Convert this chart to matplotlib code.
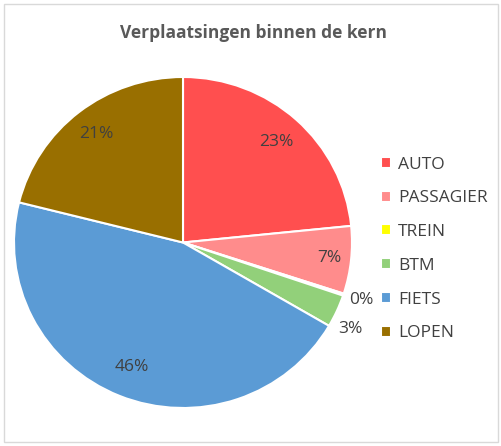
import matplotlib.pyplot as plt
import numpy as np
from matplotlib.patches import Rectangle

# data
categories = ["AUTO", "PASSAGIER", "TREIN", "BTM", "FIETS", "LOPEN"]
shares = [23.4, 6.6, 0.2, 3.2, 45.5, 21.1]
colors = ["#FF4F4F", "#FF8C8C", "#FFFF00", "#92D07A", "#5B9BD5", "#996F00"]

# label placement (radius, angle offset in degrees)
label_dist = [0.82, 0.87, 1.11, 1.12, 0.81, 0.83]
label_shift = [0, 0, 0, -3.5, 0, 0]

plt.rcParams['font.family'] = ['Open Sans', 'DejaVu Sans']

W, H = 502, 446
fig = plt.figure(figsize=(W / 100, H / 100), dpi=100)

# light frame around chart area
fig.patches.append(Rectangle((4 / W, 4 / H), (W - 8) / W, (H - 8) / H,
                             transform=fig.transFigure, fill=False,
                             edgecolor="#D9D9D9", linewidth=1))

cx, cy, rx, ry = 183, 242.5, 169, 165.5
ax = fig.add_axes([(cx - rx) / W, (H - cy - ry) / H, 2 * rx / W, 2 * ry / H])

wedges, _ = ax.pie(shares, colors=colors, startangle=90, counterclock=False,
                   radius=1, wedgeprops=dict(edgecolor="white", linewidth=1.5))
ax.set_xlim(-1, 1)
ax.set_ylim(-1, 1)
ax.set_aspect("auto")
ax.axis("off")

for w, v, d, s in zip(wedges, shares, label_dist, label_shift):
    ang = np.deg2rad((w.theta1 + w.theta2) / 2 + s)
    ax.text(d * np.cos(ang), d * np.sin(ang), f"{round(v):.0f}%",
            ha="center", va="center", fontsize=12.5, color="#404040",
            clip_on=False)

fig.text(254 / W, 1 - 33 / H, "Verplaatsingen binnen de kern",
         ha="center", va="center", fontsize=12.5, fontweight="bold",
         color="#595959")

leg = fig.legend(wedges, categories, loc="upper left",
                 bbox_to_anchor=(372 / W, 1 - 148 / H), frameon=False,
                 fontsize=12.5, labelspacing=1.02, handlelength=0.6,
                 handleheight=0.6, handletextpad=0.4, borderpad=0)
for t in leg.get_texts():
    t.set_color("#404040")

fig.savefig("out.png", dpi=100)
